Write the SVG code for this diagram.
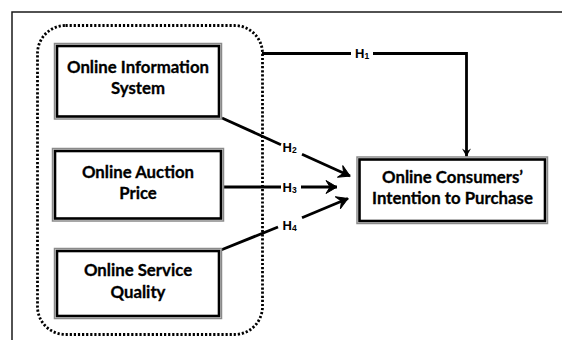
<svg xmlns="http://www.w3.org/2000/svg" width="562" height="340" viewBox="0 0 562 340">
<style>
  .frame{fill:none;stroke:#1a1a1a;stroke-width:1.5}
  .outer{fill:#fff;stroke:#8a8a8a;stroke-width:1.5}
  .inner{fill:none;stroke:#000;stroke-width:2.6}
  .lbl{font-family:Lato,"Liberation Sans",sans-serif;font-weight:bold;font-size:16.8px;fill:#000;text-anchor:middle;stroke:#000;stroke-width:0.3}
  .h{font-family:"Liberation Sans",Arial,sans-serif;font-weight:bold;font-size:13px;fill:#000}
  .sub{font-size:8.5px}
  .con{fill:none;stroke:#000;stroke-width:2.8}
  .dots{fill:none;stroke:#000;stroke-width:2.8;stroke-dasharray:2.2 1.9}
</style>
<defs>
  <marker id="arr" markerUnits="userSpaceOnUse" markerWidth="16" markerHeight="16" viewBox="-12 -8 14 16" refX="0" refY="0" orient="auto">
    <path d="M0,0 L-11,-6.5 L-7,0 L-11,6.5 Z" fill="#000" stroke="#000" stroke-width="1" stroke-linejoin="miter"/>
  </marker>
  <marker id="arrs" markerUnits="userSpaceOnUse" markerWidth="12" markerHeight="12" viewBox="-9 -6 10 12" refX="0" refY="0" orient="auto">
    <path d="M0,0 L-8,-4.5 L-5,0 L-8,4.5 Z" fill="#000"/>
  </marker>
</defs>
<rect width="562" height="340" fill="#fff"/>
<path class="frame" d="M12,340 V12 H562"/>
<rect id="group" class="dots" x="37.5" y="25.5" width="225" height="309" rx="28" ry="28"/>

<g id="connectors">
  <path class="con" d="M262,53.5 H351"/>
  <path class="con" d="M373,53.5 H466.5 V156.5" marker-end="url(#arrs)"/>
  <path class="con" d="M222,118 L281,144.7"/>
  <path class="con" d="M302,154.2 L350,176" marker-end="url(#arr)"/>
  <path class="con" d="M223,187 H281"/>
  <path class="con" d="M301,187 H337" marker-end="url(#arr)"/>
  <path class="con" d="M221,250 L278,227"/>
  <path class="con" d="M302,217.7 L348,198.5" marker-end="url(#arr)"/>
  <text class="h" x="355" y="58">H<tspan class="sub" dy="1">1</tspan></text>
  <text class="h" x="282.5" y="152">H<tspan class="sub" dy="1">2</tspan></text>
  <text class="h" x="282.5" y="192">H<tspan class="sub" dy="1">3</tspan></text>
  <text class="h" x="282.5" y="230">H<tspan class="sub" dy="1">4</tspan></text>
</g>

<g id="n1">
  <rect class="outer" x="54.5" y="43.5" width="167" height="75.5"/>
  <rect class="inner" x="57" y="46" width="162" height="70.5"/>
  <text class="lbl" x="138" y="73">Online Information</text>
  <text class="lbl" x="138" y="94">System</text>
</g>
<g id="n2">
  <rect class="outer" x="52.5" y="148.5" width="171" height="72.5"/>
  <rect class="inner" x="55" y="151" width="166" height="67.5"/>
  <text class="lbl" x="138" y="178">Online Auction</text>
  <text class="lbl" x="138" y="199">Price</text>
</g>
<g id="n3">
  <rect class="outer" x="54.5" y="248.5" width="167" height="70"/>
  <rect class="inner" x="57" y="251" width="162" height="65"/>
  <text class="lbl" x="138" y="276">Online Service</text>
  <text class="lbl" x="138" y="297.5">Quality</text>
</g>
<g id="n4">
  <rect class="outer" x="357" y="157" width="190.5" height="66.5"/>
  <rect class="inner" x="359.5" y="159.5" width="185.5" height="61.5"/>
  <text class="lbl" x="452.5" y="183">Online Consumers’</text>
  <text class="lbl" x="452.5" y="203.5">Intention to Purchase</text>
</g>
</svg>
